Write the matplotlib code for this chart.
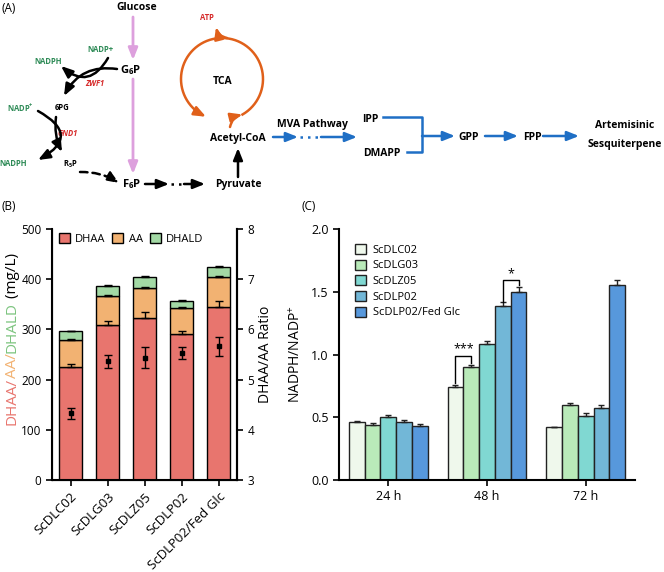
import numpy as np
import matplotlib
matplotlib.use('Agg')
import matplotlib.pyplot as plt

plt.rcParams['font.family'] = ['Open Sans', 'DejaVu Sans']
plt.rcParams['mathtext.fontset'] = 'custom'
plt.rcParams['mathtext.rm'] = 'Open Sans'
plt.rcParams['mathtext.bf'] = 'Open Sans:bold'
plt.rcParams['mathtext.it'] = 'Open Sans:italic'

# ---- panel B data ----
strains = ['ScDLC02', 'ScDLG03', 'ScDLZ05', 'ScDLP02', 'ScDLP02/Fed Glc']
dhaa = [226, 309, 323, 290, 344]
dhaa_err = [6, 8, 12, 6, 12]
aa = [53, 57, 59, 53, 61]
aa_err = [2, 2, 2, 2, 2]
dhald = [17, 21, 23, 14, 20]
dhald_err = [1, 1, 1, 1, 1]
ratio = [4.33, 5.37, 5.44, 5.53, 5.66]
ratio_err = [0.11, 0.13, 0.20, 0.11, 0.19]

# ---- panel C data ----
times = ['24 h', '48 h', '72 h']
nadph = {
    'ScDLC02': [0.46, 0.74, 0.42],
    'ScDLG03': [0.44, 0.90, 0.60],
    'ScDLZ05': [0.50, 1.08, 0.51],
    'ScDLP02': [0.46, 1.39, 0.57],
    'ScDLP02/Fed Glc': [0.43, 1.50, 1.55],
}
nadph_err = {
    'ScDLC02': [0.01, 0.02, 0.005],
    'ScDLG03': [0.015, 0.02, 0.015],
    'ScDLZ05': [0.015, 0.03, 0.02],
    'ScDLP02': [0.02, 0.03, 0.025],
    'ScDLP02/Fed Glc': [0.015, 0.04, 0.04],
}

c_dhaa, c_aa, c_dhald = '#e8756e', '#f2b272', '#a3d9a5'
c_bars = ['#eff8ec', '#b9eab9', '#80d8d2', '#72b7d7', '#5798dc']
GREEN, RED, BLUE, PINK, ORANGE = '#2e8b57', '#d62b2b', '#1f6fc5', '#dda0dd', '#e0601a'

fig = plt.figure(figsize=(6.64, 5.72), dpi=100)

# ---------- panel A: pathway sketch, drawn in pixel coordinates ----------
ax0 = fig.add_axes([0, 0, 1, 1])
ax0.set_xlim(0, 664)
ax0.set_ylim(572, 0)
ax0.axis('off')


def arrow(p0, p1, color='black', rad=0.0, ls='-', lw=1.8):
    ax0.annotate('', xy=p1, xytext=p0,
                 arrowprops=dict(arrowstyle='-|>,head_length=0.7,head_width=0.28',
                                 color=color, lw=lw, ls=ls,
                                 connectionstyle=f'arc3,rad={rad}',
                                 shrinkA=0, shrinkB=0))


def label(x, y, s, size=7.5, color='black', weight='bold', style='normal', ha='center'):
    ax0.text(x, y, s, fontsize=size, color=color, fontweight=weight,
             fontstyle=style, ha=ha, va='center')


ax0.text(2, 8, '(A)', fontsize=8.5, va='center')
ax0.text(2, 206, '(B)', fontsize=8.5, va='center')
ax0.text(302, 206, '(C)', fontsize=8.5, va='center')

label(137, 7, 'Glucose')
label(131, 70, r'$\mathbf{G_6P}$', size=8)
label(132, 184, r'$\mathbf{F_6P}$', size=8)
label(238, 184, 'Pyruvate')
label(238, 138, 'Acetyl-CoA')
label(223, 82, 'TCA')
label(207, 18, 'ATP', size=5.5, color=RED)

arrow((133, 17), (133, 60), PINK, lw=2)
arrow((133, 79), (133, 174), PINK, lw=2)

# pentose phosphate branch
label(100, 50, 'NADP+', size=5.5, color=GREEN)
label(48, 61, 'NADPH', size=5.5, color=GREEN)
label(95, 83, 'ZWF1', size=5.5, color=RED, style='italic')
label(62, 108, '6PG', size=5.5)
label(20, 108, r'$\mathbf{NADP^{+}}$', size=5.5, color=GREEN)
label(68, 133, 'GND1', size=5.5, color=RED, style='italic')
label(13, 164, 'NADPH', size=5.5, color=GREEN)
label(70, 164, r'$\mathbf{R_5P}$', size=5.5)
arrow((108, 58), (61, 66), rad=-0.6)
arrow((117, 69), (64, 96), rad=0.35)
arrow((38, 111), (38, 160), rad=-0.9)
arrow((56, 117), (62, 152), rad=0.15)
arrow((80, 172), (119, 183), rad=-0.15, ls=(0, (3, 2)))

# glycolysis to pyruvate
arrow((145, 184), (169, 184))
ax0.plot([171, 183], [184, 184], color='black', lw=1.8, ls=(0, (1, 2)))
arrow((184, 184), (205, 184))
arrow((238, 177), (238, 148))

# TCA cycle
cx, cy, r = 222, 79, 41
t = np.radians(np.linspace(-60, 240, 200))
ax0.plot(cx + r * np.cos(t), cy - r * np.sin(t), color=ORANGE, lw=1.8)
te = np.radians(247)
arrow((cx + r * np.cos(np.radians(238)), cy - r * np.sin(np.radians(238))),
      (cx + r * np.cos(te), cy - r * np.sin(te)), ORANGE)
arrow((230, 127), (cx + r * np.cos(np.radians(-60)), cy - r * np.sin(np.radians(-60))),
      ORANGE, rad=-0.3)
arrow((227, 38), (216, 27), ORANGE, rad=-0.3)

# MVA pathway
label(312, 124, 'MVA Pathway')
arrow((273, 137), (298, 137), BLUE)
ax0.plot([300, 320], [137, 137], color=BLUE, lw=1.8, ls=(0, (1, 2)))
arrow((321, 137), (357, 137), BLUE)
label(370, 119, 'IPP')
label(382, 154, 'DMAPP')
ax0.plot([383, 422, 422, 407], [117, 117, 152, 152], color=BLUE, lw=1.8)
arrow((422, 136), (455, 136), BLUE)
label(469, 137, 'GPP')
arrow((485, 136), (518, 136), BLUE)
label(532, 137, 'FPP')
arrow((543, 136), (579, 136), BLUE)
label(625, 126, 'Artemisinic')
label(625, 144, 'Sesquiterpene')

# multicolour y label of panel B
prev = ax0.text(12, 425, 'DHAA/', rotation=90, ha='center', va='bottom',
                fontsize=11, color=c_dhaa)
for piece, col in [('AA/', c_aa), ('DHALD', '#7cc47e'), (' (mg/L)', 'black')]:
    prev = ax0.annotate(piece, xy=(0.5, 1.0), xycoords=prev, rotation=90,
                        ha='center', va='bottom', fontsize=11, color=col)

# ---------- panel B ----------
axb = fig.add_axes([52 / 664, 92 / 572, 185 / 664, 251 / 572])
x = np.arange(len(strains))
w = 0.6
bot_aa = np.array(dhaa)
bot_dhald = bot_aa + np.array(aa)
ekw = dict(ecolor='black', elinewidth=1, capsize=3, capthick=1)
axb.bar(x, dhaa, w, color=c_dhaa, edgecolor='black', lw=1, label='DHAA',
        yerr=[np.zeros(5), dhaa_err], error_kw=ekw)
axb.bar(x, aa, w, bottom=bot_aa, color=c_aa, edgecolor='black', lw=1, label='AA',
        yerr=[np.zeros(5), aa_err], error_kw=ekw)
axb.bar(x, dhald, w, bottom=bot_dhald, color=c_dhald, edgecolor='black', lw=1,
        label='DHALD', yerr=[np.zeros(5), dhald_err], error_kw=ekw)
axb.set_xlim(-0.5, 4.5)
axb.set_ylim(0, 500)
axb.set_yticks([0, 100, 200, 300, 400, 500])
axb.set_xticks(x)
axb.set_xticklabels(strains, rotation=45, ha='right', rotation_mode='anchor')
axb.tick_params(labelsize=8.5, width=1.2, length=4)
axb.tick_params(axis='x', labelsize=9.5)
for s in ['left', 'right', 'bottom']:
    axb.spines[s].set_linewidth(1.5)
axb.spines['top'].set_visible(False)
axb.legend(loc='upper left', bbox_to_anchor=(0.0, 1.01), ncol=3, frameon=False,
           fontsize=8, handlelength=1.0, handleheight=1.0, handletextpad=0.5,
           columnspacing=0.6, borderaxespad=0.2)

axr = axb.twinx()
axr.errorbar(x, ratio, yerr=ratio_err, fmt='s', color='black', ms=3,
             elinewidth=1, capsize=3, capthick=1)
axr.set_ylim(3, 8)
axr.set_yticks([3, 4, 5, 6, 7, 8])
axr.tick_params(labelsize=8.5, width=1.2, length=4)
axr.spines['top'].set_visible(False)
axr.spines['right'].set_linewidth(1.5)
axr.set_ylabel('DHAA/AA Ratio', fontsize=10, labelpad=3)

# ---------- panel C ----------
axc = fig.add_axes([339 / 664, 92 / 572, 296 / 664, 251 / 572])
g = np.arange(len(times))
bw = 0.16
for i, name in enumerate(nadph):
    xs = g + (i - 2) * bw
    axc.bar(xs, nadph[name], bw, color=c_bars[i], edgecolor='#222222', lw=1,
            label=name, yerr=[np.zeros(3), nadph_err[name]],
            error_kw=dict(ecolor='#222222', elinewidth=1, capsize=2.5, capthick=1))


# significance brackets at 48 h
def bracket(i1, i2, h1, h2, top, txt):
    x1 = g[1] + (i1 - 2) * bw
    x2 = g[1] + (i2 - 2) * bw
    axc.plot([x1, x1, x2, x2], [h1, top, top, h2], color='black', lw=1)
    axc.text((x1 + x2) / 2, top + 0.005, txt, ha='center', va='bottom', fontsize=9)


bracket(0, 1, 0.77, 0.93, 0.99, '***')
bracket(3, 4, 1.42, 1.55, 1.59, '*')

axc.set_xlim(-0.5, 2.5)
axc.set_ylim(0, 2.0)
axc.set_yticks([0, 0.5, 1.0, 1.5, 2.0])
axc.set_yticklabels(['0.0', '0.5', '1.0', '1.5', '2.0'])
axc.set_xticks(g)
axc.set_xticklabels(times)
axc.tick_params(labelsize=9, width=1.2, length=4)
axc.spines['top'].set_visible(False)
axc.spines['right'].set_visible(False)
axc.spines['left'].set_linewidth(1.5)
axc.spines['bottom'].set_linewidth(1.5)
axc.set_ylabel(r'NADPH/NADP$^{+}$', fontsize=10, labelpad=5)
axc.legend(loc='upper left', bbox_to_anchor=(0.02, 0.98), frameon=False, fontsize=8,
           handlelength=1.0, handleheight=1.0, handletextpad=0.6, labelspacing=0.35)

fig.savefig('out.png', dpi=100)
